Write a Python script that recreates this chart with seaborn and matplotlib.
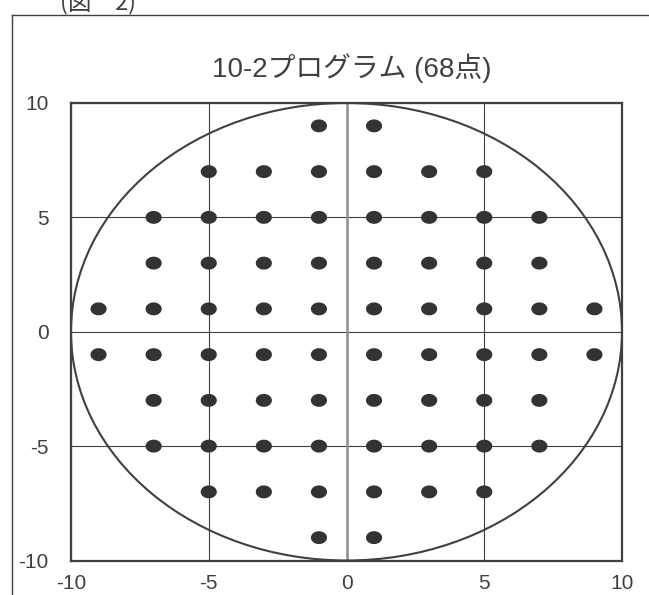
import numpy as np
import pandas as pd
import matplotlib
matplotlib.use("Agg")
import matplotlib.pyplot as plt
from matplotlib.path import Path
from matplotlib.patches import Circle
from matplotlib.lines import Line2D
import seaborn as sns

plt.rcParams["axes.unicode_minus"] = False

# ---- data: 10-2 test points (x positions per row, row y value) ----
row_y = [9, 7, 5, 3, 1, -1, -3, -5, -7, -9]
x_row_9 = [-1, 1]
x_row_7 = [-5, -3, -1, 1, 3, 5]
x_row_5 = [-7, -5, -3, -1, 1, 3, 5, 7]
x_row_3 = [-7, -5, -3, -1, 1, 3, 5, 7]
x_row_1 = [-9, -7, -5, -3, -1, 1, 3, 5, 7, 9]
row_x = [x_row_9, x_row_7, x_row_5, x_row_3, x_row_1,
         x_row_1, x_row_3, x_row_5, x_row_7, x_row_9]

x_ticks = [-10, -5, 0, 5, 10]
y_ticks = [-10, -5, 0, 5, 10]
field_radius = 10
title = "10-2プログラム (68点)"
fig_label = "(図　2)"

xs, ys = [], []
for yv, xr in zip(row_y, row_x):
    for xv in xr:
        xs.append(xv)
        ys.append(yv)
df = pd.DataFrame({"x": xs, "y": ys})

dark = "#404040"

fig = plt.figure(figsize=(6.49, 5.95), dpi=100)
W, H = 649, 595
left, right, top, bottom = 71, 622, 103, 560.5
ax = fig.add_axes([left / W, 1 - bottom / H, (right - left) / W, (bottom - top) / H])
ax.set_axisbelow(True)

# grid lines
ax.set_xticks(x_ticks)
ax.set_yticks(y_ticks)
ax.grid(True, color=dark, linewidth=0.8)
ax.axvline(0, color="#8f8f8f", linewidth=1.8, zorder=1.8)

# field circle
ax.add_patch(Circle((0, 0), field_radius, fill=False, edgecolor=dark,
                    linewidth=1.5, zorder=2))

# elliptical dots
t = np.linspace(0, 2 * np.pi, 65)
ell = Path(np.column_stack([np.cos(t), 0.8 * np.sin(t)]), closed=True)
sns.scatterplot(data=df, x="x", y="y", marker=ell, s=135, color="#333333",
                edgecolor="none", linewidth=0, ax=ax, legend=False, zorder=3)

ax.set_xlim(-10, 10)
ax.set_ylim(-10, 10)
ax.set_xlabel("")
ax.set_ylabel("")
for sp in ax.spines.values():
    sp.set_color(dark)
    sp.set_linewidth(1.6)
    sp.set_zorder(4)
ax.tick_params(axis="both", length=0, labelsize=15, labelcolor=dark)
ax.tick_params(axis="y", pad=16)
ax.tick_params(axis="x", pad=10)
for lab in ax.get_xticklabels() + ax.get_yticklabels():
    lab.set_family(["Liberation Sans", "DejaVu Sans"])

fig.text(351.5 / W, 1 - 68 / H, title, ha="center", va="center",
         fontsize=20, color=dark,
         family=["Liberation Sans", "Noto Sans CJK JP", "DejaVu Sans"])

fig.text(60 / W, 1 - 9 / H, fig_label, ha="left", va="baseline",
         fontsize=17, color=dark,
         family=["Noto Sans CJK JP", "DejaVu Sans"])

# outer frame
fig.add_artist(Line2D([12 / W, 1.0], [1 - 14.7 / H, 1 - 14.7 / H],
                      transform=fig.transFigure, color=dark, linewidth=1.0))
fig.add_artist(Line2D([12 / W, 12 / W], [1 - 14.7 / H, 0.0],
                      transform=fig.transFigure, color=dark, linewidth=1.0))

fig.savefig("out.png", dpi=100, facecolor="white")
